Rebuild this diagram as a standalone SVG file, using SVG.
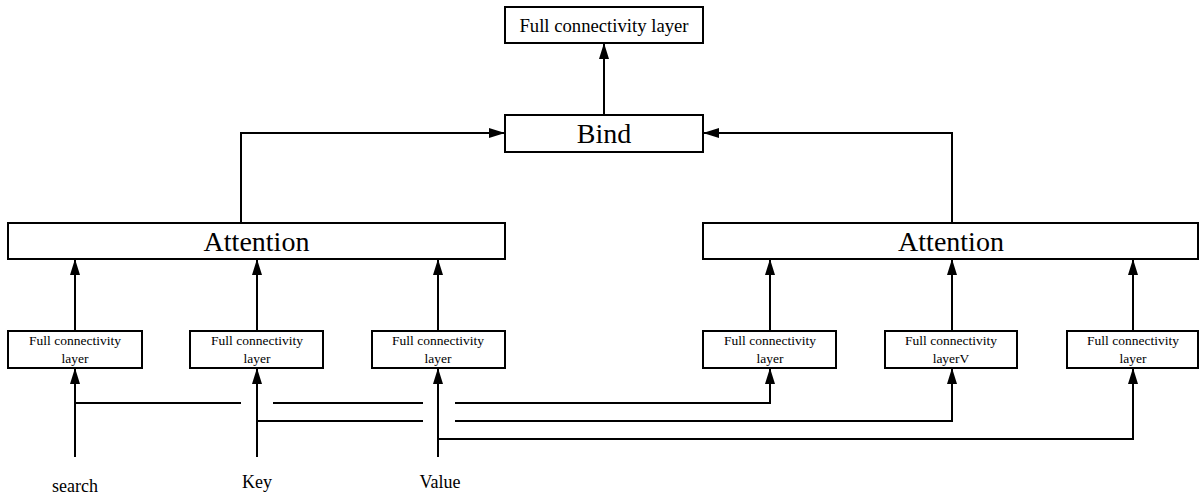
<svg xmlns="http://www.w3.org/2000/svg" width="1200" height="497" viewBox="0 0 1200 497">
<defs>
<marker id="ah" markerUnits="userSpaceOnUse" markerWidth="16" markerHeight="10" refX="16" refY="5" orient="auto">
<path d="M0,0 L16,5 L0,10 z" fill="#000"/>
</marker>
<style>
.box{fill:#fff;stroke:#000;stroke-width:2}
.ln{fill:none;stroke:#000;stroke-width:2}
text{font-family:'Liberation Serif','Tinos','Times New Roman',Times,serif;fill:#000;text-anchor:middle}
.sm{font-size:13.5px}
.big{font-size:28px}
.lbl{font-size:18px}
</style>
</defs>
<rect width="1200" height="497" fill="#fff"/>
<g id="connectors">
<path class="ln" d="M604,115 V43" marker-end="url(#ah)"/>
<path class="ln" d="M241,223 V133 H505" marker-end="url(#ah)"/>
<path class="ln" d="M952,223 V133 H703" marker-end="url(#ah)"/>
<path class="ln" d="M75,331 V259" marker-end="url(#ah)"/>
<path class="ln" d="M257,331 V259" marker-end="url(#ah)"/>
<path class="ln" d="M438,331 V259" marker-end="url(#ah)"/>
<path class="ln" d="M770,331 V259" marker-end="url(#ah)"/>
<path class="ln" d="M952,331 V259" marker-end="url(#ah)"/>
<path class="ln" d="M1133,331 V259" marker-end="url(#ah)"/>
<path class="ln" d="M75,457 V368" marker-end="url(#ah)"/>
<path class="ln" d="M257,457 V368" marker-end="url(#ah)"/>
<path class="ln" d="M438,457 V368" marker-end="url(#ah)"/>
<path class="ln" d="M75,403 H241 M273,403 H423"/>
<path class="ln" d="M455,403 H770 V368" marker-end="url(#ah)"/>
<path class="ln" d="M257,421 H423"/>
<path class="ln" d="M455,421 H952 V368" marker-end="url(#ah)"/>
<path class="ln" d="M438,439 H1133 V368" marker-end="url(#ah)"/>
</g>
<g id="fc-top">
<rect class="box" x="505" y="7" width="198" height="36"/>
<text x="604" y="32" font-size="18.7">Full connectivity layer</text>
</g>
<g id="bind">
<rect class="box" x="505" y="115" width="198" height="37"/>
<text class="big" x="604" y="143">Bind</text>
</g>
<g id="attention-left">
<rect class="box" x="8" y="223" width="497" height="36"/>
<text class="big" x="256.5" y="251">Attention</text>
</g>
<g id="attention-right">
<rect class="box" x="703" y="223" width="495" height="36"/>
<text class="big" x="951" y="251">Attention</text>
</g>
<g id="fc1">
<rect class="box" x="8" y="331" width="134" height="37"/>
<text class="sm" x="75" y="345">Full connectivity</text>
<text class="sm" x="75" y="363">layer</text>
</g>
<g id="fc2">
<rect class="box" x="190" y="331" width="133" height="37"/>
<text class="sm" x="257" y="345">Full connectivity</text>
<text class="sm" x="257" y="363">layer</text>
</g>
<g id="fc3">
<rect class="box" x="372" y="331" width="133" height="37"/>
<text class="sm" x="438" y="345">Full connectivity</text>
<text class="sm" x="438" y="363">layer</text>
</g>
<g id="fc4">
<rect class="box" x="703" y="331" width="133" height="37"/>
<text class="sm" x="770" y="345">Full connectivity</text>
<text class="sm" x="770" y="363">layer</text>
</g>
<g id="fc5">
<rect class="box" x="885" y="331" width="132" height="37"/>
<text class="sm" x="951" y="345">Full connectivity</text>
<text class="sm" x="951" y="363">layerV</text>
</g>
<g id="fc6">
<rect class="box" x="1067" y="331" width="131" height="37"/>
<text class="sm" x="1133" y="345">Full connectivity</text>
<text class="sm" x="1133" y="363">layer</text>
</g>
<g id="inputs">
<text class="lbl" x="75" y="492">search</text>
<text class="lbl" x="257" y="488">Key</text>
<text class="lbl" x="440" y="488">Value</text>
</g>
</svg>
